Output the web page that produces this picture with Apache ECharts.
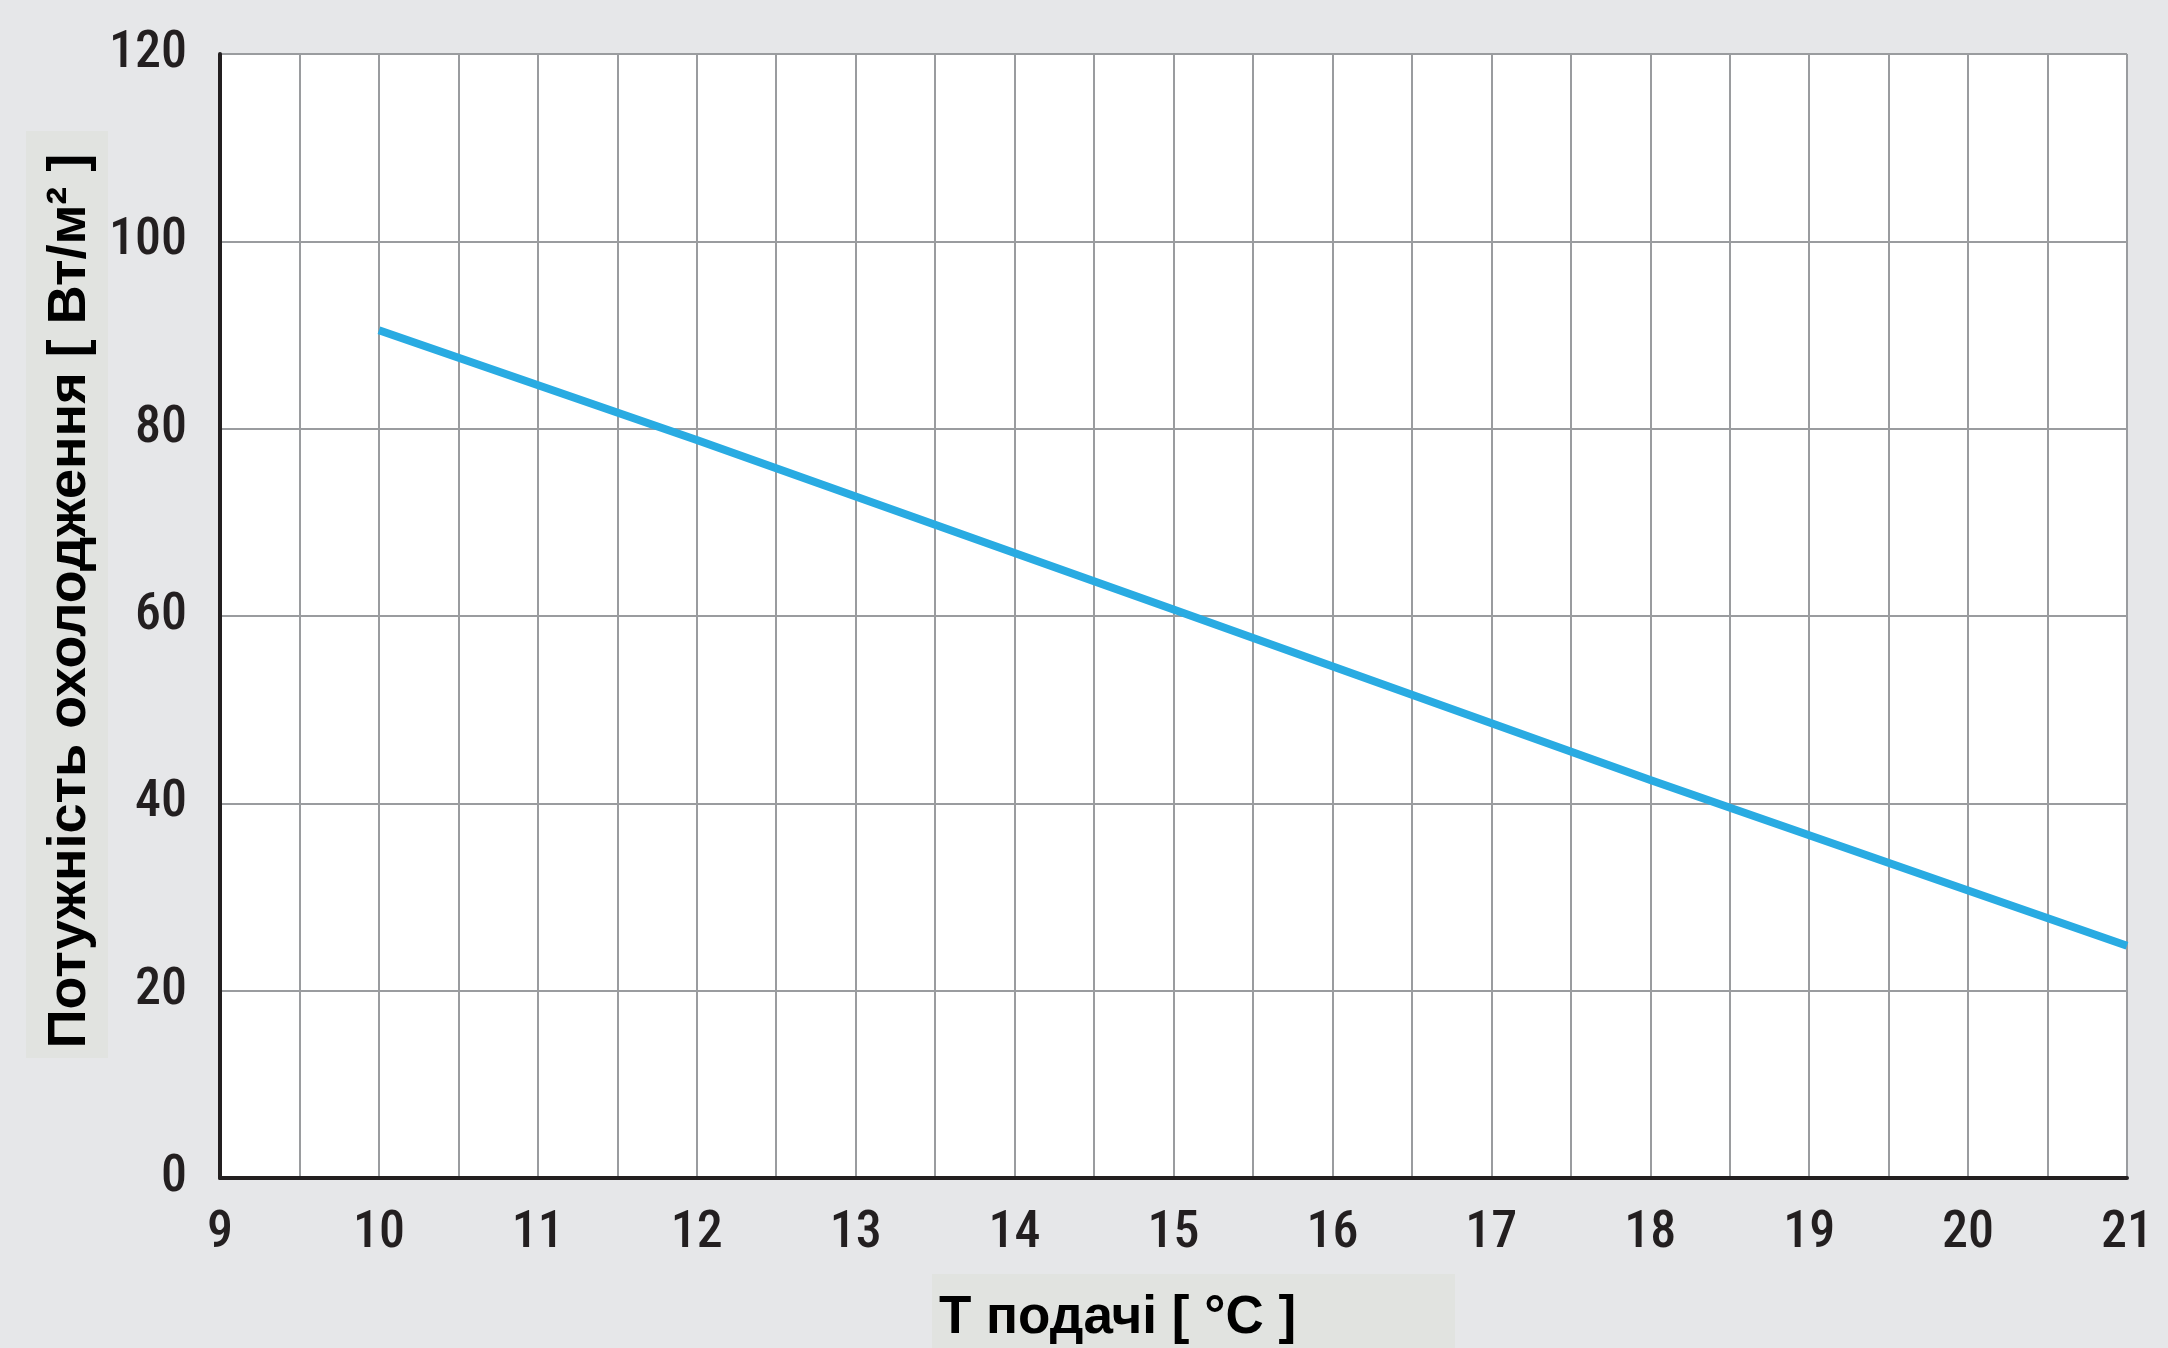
<!DOCTYPE html>
<html>
<head>
<meta charset="utf-8">
<script src="https://cdn.jsdelivr.net/npm/echarts@6/dist/echarts.min.js"></script>
<style>
html,body{margin:0;padding:0;background:#e6e7e9;}
#chart{width:2168px;height:1348px;}
</style>
</head>
<body>
<div id="chart"></div>
<script>
// Data
const supplyTemp = [10, 12, 15, 18, 21];
const coolingPower = [90.5, 78.8, 60.7, 42.5, 24.8];
const xTickMin = 9, xTickMax = 21;
const yTickMin = 0, yTickMax = 120, yTickStep = 20;
const xTitle = 'T подачі [ °C ]';
const yTitle = 'Потужність охолодження [ Вт/м² ]';

const seriesData = supplyTemp.map((t, i) => [t, coolingPower[i]]);

// choose a condensed face for the tick labels if one is available
function pickTickFont() {
  const ctx = document.createElement('canvas').getContext('2d');
  const w = (f) => { ctx.font = f; return ctx.measureText('1203456789').width; };
  const probe = '52px ';
  if (w(probe + '"Liberation Sans Narrow", monospace') !== w(probe + 'monospace')) {
    return { fontStyle: 'normal', fontWeight: 'normal', fontFamily: '"Liberation Sans Narrow"' };
  }
  const fams = ['Roboto', '"Open Sans"', '"Noto Sans"', 'Inter'];
  for (const f of fams) {
    const normal = w('500 52px ' + f);
    const cond = w('condensed 500 52px ' + f);
    if (cond < normal * 0.92) return { fontStyle: 'condensed', fontWeight: 500, fontFamily: f };
  }
  return { fontStyle: 'normal', fontWeight: 'normal', fontFamily: '"DejaVu Sans Condensed", sans-serif' };
}
const tf = pickTickFont();
const titleFont = '"Liberation Sans", Arial, sans-serif';

const chart = echarts.init(document.getElementById('chart'));
chart.setOption({
  backgroundColor: '#e6e7e9',
  animation: false,
  grid: { left: 220, right: 41, top: 54, bottom: 170, show: true, backgroundColor: '#ffffff', borderWidth: 0 },
  xAxis: {
    type: 'value', min: xTickMin, max: xTickMax, interval: 0.5,
    axisLine: { show: true, onZero: false, lineStyle: { color: '#231f20', width: 4 } },
    axisTick: { show: false },
    splitLine: { show: true, lineStyle: { color: '#9a9c9f', width: 2 } },
    axisLabel: {
      margin: 30, fontStyle: tf.fontStyle, fontWeight: tf.fontWeight, fontFamily: tf.fontFamily,
      fontSize: 52, color: '#231f20',
      formatter: v => (Number.isInteger(v) ? String(v) : '')
    }
  },
  yAxis: {
    type: 'value', min: yTickMin, max: yTickMax, interval: yTickStep,
    axisLine: { show: true, lineStyle: { color: '#231f20', width: 4 } },
    axisTick: { show: false },
    splitLine: { show: true, lineStyle: { color: '#9a9c9f', width: 2 } },
    axisLabel: { margin: 33, fontStyle: tf.fontStyle, fontWeight: tf.fontWeight, fontFamily: tf.fontFamily, fontSize: 52, color: '#231f20' }
  },
  series: [{
    type: 'line', data: seriesData, showSymbol: false, symbol: 'none',
    lineStyle: { color: '#29abe2', width: 8, cap: 'butt' },
    z: 5
  }],
  graphic: [
    { type: 'rect', shape: { x: 26, y: 131, width: 82, height: 927 }, style: { fill: '#e1e3e0' }, z: -1 },
    { type: 'text', x: 70, y: 601, rotation: Math.PI / 2,
      style: { text: yTitle, font: 'bold 54px ' + titleFont, fill: '#000000', textAlign: 'center', textVerticalAlign: 'middle' } },
    { type: 'rect', shape: { x: 932, y: 1274, width: 523, height: 74 }, style: { fill: '#e1e3e0' }, z: -1 },
    { type: 'text', x: 939, y: 1318,
      style: { text: xTitle, font: 'bold 53px ' + titleFont, fill: '#000000', textAlign: 'left', textVerticalAlign: 'middle' } }
  ]
});
</script>
</body>
</html>
